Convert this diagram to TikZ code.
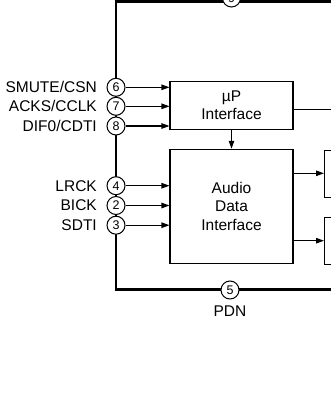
\documentclass[tikz,border=0pt]{standalone}
\usepackage{fontspec}
\setmainfont{Liberation Sans}
\usetikzlibrary{arrows.meta}
\begin{document}
\begin{tikzpicture}[x=1pt,y=-1pt,
  pin/.style={circle,draw,fill=white,line width=1pt,minimum size=18pt,inner sep=0pt,font=\fontsize{12.5}{13}\selectfont},
  blk/.style={draw,line width=1.1pt,inner sep=0pt,align=center,font=\fontsize{15.5}{18.4}\selectfont},
  lbl/.style={anchor=east,inner sep=0pt,font=\fontsize{15.5}{17}\selectfont},
  bus/.style={line width=2.6pt},
  sig/.style={line width=1.1pt,-{Triangle[length=8pt,width=5.5pt]}},
  wire/.style={line width=1.1pt}]
\useasboundingbox (0,0) rectangle (331,409);
\clip (0,0) rectangle (331,409);
% outer bus
\coordinate (tr) at (340,1.5);
\coordinate (tl) at (116,1.5);
\coordinate (bl) at (116,289.5);
\coordinate (br) at (340,289.5);
\draw[bus] (tr) -- (tl) -- (bl) -- (br);
% blocks
\node[blk,minimum width=123pt,minimum height=47.5pt] (up) at (231.5,105.5) {\textmu P\\Interface};
\node[blk,minimum width=123pt,minimum height=114pt] (ad) at (231.5,206.3) {Audio\\Data\\Interface};
\node[draw,line width=1.1pt,minimum width=40pt,minimum height=47pt,inner sep=0pt,anchor=north west] (r1) at (324,150) {};
\node[draw,line width=1.1pt,minimum width=40pt,minimum height=47pt,inner sep=0pt,anchor=north west] (r2) at (324,217) {};
% pins
\node[pin] (p9) at (231.5,-2) {9};
\node[pin] (p5) at (230,290) {5};
\node[pin] (p6) at (116,87.3) {6};
\node[pin] (p7) at (116,106.3) {7};
\node[pin] (p8) at (116,126) {8};
\node[pin] (p4) at (116,185.7) {4};
\node[pin] (p2) at (116,205.5) {2};
\node[pin] (p3) at (116,225.2) {3};
% labels
\node[lbl] (l6) at (97,87.3) {SMUTE/CSN};
\node[lbl] (l7) at (97,106.3) {ACKS/CCLK};
\node[lbl] (l8) at (97,126) {DIF0/CDTI};
\node[lbl] (l4) at (97,185.7) {LRCK};
\node[lbl] (l2) at (97,205.5) {BICK};
\node[lbl] (l3) at (97,225.2) {SDTI};
\node[inner sep=0pt,font=\fontsize{15.5}{17}\selectfont] (pdn) at (230,311) {PDN};
% signals
\draw[sig] (p6.east) -- (p6.east -| up.west);
\draw[sig] (p7.east) -- (p7.east -| up.west);
\draw[sig] (p8.east) -- (p8.east -| up.west);
\draw[sig] (p4.east) -- (p4.east -| ad.west);
\draw[sig] (p2.east) -- (p2.east -| ad.west);
\draw[sig] (p3.east) -- (p3.east -| ad.west);
\draw[sig] (up.south) -- (ad.north);
\coordinate (upr) at (340,109.3);
\draw[wire] (up.east |- upr) -- (upr);
\draw[sig] (ad.east |- 0,173.3) -- (r1.west |- 0,173.3);
\draw[sig] (ad.east |- 0,240.7) -- (r2.west |- 0,240.7);
\end{tikzpicture}
\end{document}
